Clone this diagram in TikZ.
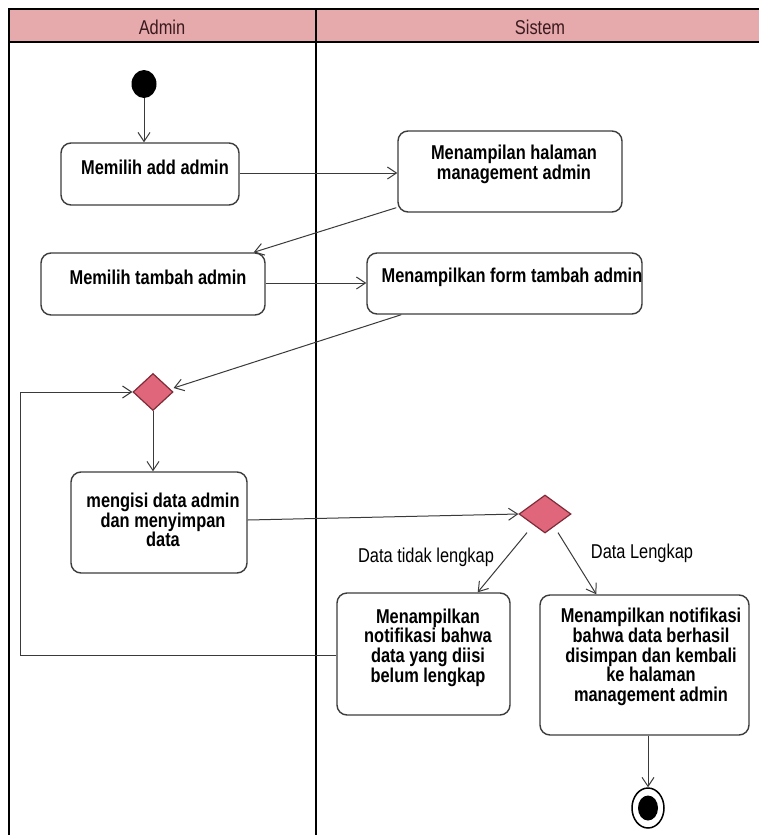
\documentclass[tikz,border=0pt]{standalone}
\usepackage{fontspec}
\setmainfont[FakeStretch=0.82]{Liberation Sans}
\usetikzlibrary{shapes.geometric,arrows.meta,calc}
\definecolor{lanehead}{HTML}{E6A9AC}
\definecolor{headtext}{HTML}{3A1A1E}
\definecolor{decfill}{HTML}{E0677B}
\definecolor{decdraw}{HTML}{7E2A38}
\definecolor{boxdraw}{HTML}{3C3C3C}
\definecolor{flow}{HTML}{3A3A3A}
\tikzset{
  actbox/.style={draw=boxdraw, line width=1.4pt, rounded corners=10pt, fill=white, inner sep=0pt},
  acttext/.style={font=\bfseries\fontsize{20}{19.7}\selectfont, align=center, inner sep=0pt},
  decision/.style={diamond, draw=decdraw, line width=1.2pt, fill=decfill, inner sep=0pt},
  flowline/.style={draw=flow, line width=1pt, -{Straight Barb[length=9pt,width=12pt,line width=1pt]}},
  guard/.style={font=\fontsize{20}{20}\selectfont, inner sep=0pt},
  lanefont/.style={font=\fontsize{20}{20}\selectfont, text=headtext, inner sep=0pt}
}
\begin{document}
\begin{tikzpicture}[x=1pt,y=-1pt]
\useasboundingbox (0,0) rectangle (758,835);
\fill[white] (0,0) rectangle (758,835);

% swimlanes
\fill[lanehead] (9,9) rectangle (762,42);
\draw[line width=2pt, black] (9,842) -- (9,9) -- (762,9);
\draw[line width=1.6pt, black] (9,42) -- (762,42);
\draw[line width=2pt, black] (316,9) -- (316,842);
\node[lanefont] (laneA) at (162,27) {Admin};
\node[lanefont] (laneS) at (540,27) {Sistem};

% initial node
\node[ellipse, fill=black, minimum width=25pt, minimum height=28pt, inner sep=0pt] (init) at (144,84) {};

% activities
\node[actbox, minimum width=178pt, minimum height=62pt] (b1) at (150,174) {};
\node[acttext] (t1) at (155,167) {Memilih add admin};

\node[actbox, minimum width=224pt, minimum height=81pt] (b2) at (510,171.5) {};
\node[acttext] (t2) at (514,164.5) {Menampilan halaman\\management admin};

\node[actbox, minimum width=224pt, minimum height=62pt] (b3) at (153,284) {};
\node[acttext] (t3) at (158,277) {Memilih tambah admin};

\node[actbox, minimum width=275pt, minimum height=61pt] (b4) at (504.5,283.5) {};
\node[acttext] (t4) at (512,277) {Menampilkan form tambah admin};

\node[decision, minimum width=40pt, minimum height=37pt] (d1) at (153,392) {};

\node[actbox, minimum width=176pt, minimum height=101pt] (b5) at (159,522.5) {};
\node[acttext] (t5) at (163,520) {mengisi data admin\\dan menyimpan\\data};

\node[decision, minimum width=52pt, minimum height=38pt] (d2) at (545,514) {};

\node[actbox, minimum width=173pt, minimum height=122pt] (b6) at (423.5,654) {};
\node[acttext] (t6) at (428,647.5) {Menampilkan\\notifikasi bahwa\\data yang diisi\\belum lengkap};

\node[actbox, minimum width=209pt, minimum height=140pt] (b7) at (644.5,665) {};
\node[acttext] (t7) at (651,657) {Menampilkan notifikasi\\bahwa data berhasil\\disimpan dan kembali\\ke halaman\\management admin};

% final node
\node[ellipse, draw=black, line width=1.5pt, fill=white, minimum width=32pt, minimum height=40pt, inner sep=0pt] (fin) at (648,808) {};
\node[ellipse, fill=black, minimum width=20pt, minimum height=25pt, inner sep=0pt] (finc) at (fin.center) {};

% control flows
\draw[flowline] (init.south) -- (init.south |- b1.north);
\draw[flowline] (b1.east |- 0,173) -- (b2.west |- 0,173);
\coordinate (b2out) at ($(b2.south west)+(-1,-5)$);
\coordinate (b3in) at ($(b3.north east)+(-12,0)$);
\draw[flowline] (b2out) -- (b3in);
\draw[flowline] (b3.east |- 0,283) -- (b4.west |- 0,283);
\coordinate (b4out) at ($(b4.south west)+(35,0)$);
\draw[flowline] (b4out) -- ($(d1.east)+(0,-4)$);
\draw[flowline] (d1.south) -- (d1.south |- b5.north);
\draw[flowline] (b5.east |- 0,520) -- (d2.west);
\coordinate (d2l) at ($(d2.south)+(-18,-1)$);
\coordinate (d2r) at ($(d2.south)+(13,-1)$);
\draw[flowline] (d2l) -- ($(b6.north east)+(-33,0)$);
\draw[flowline] (d2r) -- ($(b7.north west)+(57,0)$);
\node[guard] (g1) at (426,557) {Data tidak lengkap};
\node[guard] (g2) at (642,553) {Data Lengkap};
\coordinate (loopB) at (20,655);
\coordinate (loopT) at (20,392);
\draw[flowline] (b6.west |- loopB) -- (loopB) -- (loopT) -- (d1.west);
\draw[flowline] (b7.south -| fin.north) -- (fin.north);
\end{tikzpicture}
\end{document}
